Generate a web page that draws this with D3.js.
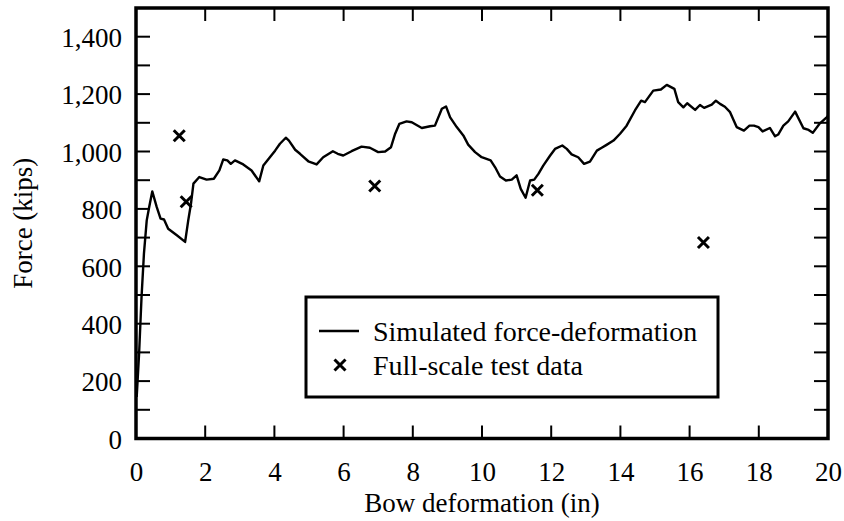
<!DOCTYPE html>
<html><head><meta charset="utf-8">
<script src="https://cdn.jsdelivr.net/npm/d3@7"></script>
<style>body{margin:0;background:#fff}svg{display:block}text{font-family:"Liberation Serif","Times New Roman",serif;fill:#000}</style>
</head><body>
<script>
const simX = [0.02,0.09,0.16,0.23,0.31,0.38,0.47,0.60,0.71,0.81,0.93,1.18,1.42,1.51,1.59,1.66,1.83,2.04,2.25,2.41,2.52,2.64,2.74,2.86,3.10,3.34,3.56,3.68,3.87,4.02,4.16,4.33,4.42,4.60,4.74,4.98,5.22,5.41,5.69,5.83,5.99,6.23,6.52,6.76,7.00,7.20,7.37,7.49,7.61,7.82,7.97,8.26,8.50,8.64,8.84,8.96,9.08,9.27,9.46,9.60,9.80,9.99,10.25,10.38,10.52,10.69,10.86,11.00,11.12,11.26,11.39,11.51,11.63,11.77,11.97,12.11,12.32,12.45,12.59,12.78,12.95,13.12,13.32,13.46,13.60,13.80,13.99,14.18,14.42,14.60,14.71,14.95,15.17,15.34,15.56,15.67,15.82,15.93,16.16,16.30,16.42,16.64,16.76,16.88,17.02,17.17,17.36,17.57,17.73,17.86,17.99,18.11,18.32,18.47,18.56,18.71,18.85,19.05,19.29,19.44,19.56,19.75,19.96,20.0];
const simY = [145,297,493,645,760,806,861,806,766,763,731,708,685,760,819,888,911,902,905,934,972,969,957,969,955,934,896,951,980,1003,1027,1048,1038,1006,992,966,955,980,1001,992,986,1001,1017,1013,998,1000,1015,1062,1096,1105,1102,1082,1088,1090,1149,1157,1119,1085,1056,1024,998,980,969,945,913,899,902,917,870,839,899,902,922,951,986,1009,1021,1009,990,980,957,965,1003,1013,1023,1038,1062,1090,1143,1177,1172,1212,1216,1232,1218,1172,1154,1168,1145,1162,1152,1163,1177,1166,1156,1137,1085,1073,1090,1090,1085,1070,1082,1053,1059,1090,1105,1139,1081,1075,1065,1096,1119,1124];
const testX = [1.25,1.45,6.9,11.6,16.4];
const testY = [1055,825,880,865,683];
const xTicks = [0,2,4,6,8,10,12,14,16,18,20];
const yTicks = [0,200,400,600,800,1000,1200,1400];
const yMinor = [100,300,500,700,900,1100,1300,1500];
const seriesNames = ["Simulated force-deformation","Full-scale test data"];
const xTitle = "Bow deformation (in)";
const yTitle = "Force (kips)";

const W=844,H=521, L=136, R=828, T=8, B=438.5;
const svg=d3.select("body").append("svg").attr("width",W).attr("height",H);
const x=d3.scaleLinear().domain([0,20]).range([L,R]);
const y=d3.scaleLinear().domain([0,1500]).range([B,T]);

const g=svg.append("g");
const left=g.append("g").attr("transform",`translate(${L},0)`)
 .call(d3.axisLeft(y).tickValues(yTicks).tickSize(0).tickPadding(14).tickFormat(d3.format(",")));
left.select(".domain").remove();
left.selectAll("text").style("font-size","27px").style("font-family","Liberation Serif").attr("dy","0.36em");
const bottom=g.append("g").attr("transform",`translate(0,${B})`)
 .call(d3.axisBottom(x).tickValues(xTicks).tickSize(0).tickPadding(0).tickFormat(d3.format("d")));
bottom.select(".domain").remove();
bottom.selectAll("text").style("font-size","27px").style("font-family","Liberation Serif").attr("dy",null).attr("y",42);

const tk=g.append("g").attr("stroke","#000").attr("stroke-width",2);
const allY=yTicks.concat(yMinor).filter(v=>v>0&&v<1500);
tk.selectAll(".yl").data(allY).join("line").attr("x1",L).attr("x2",L+14).attr("y1",d=>y(d)).attr("y2",d=>y(d));
tk.selectAll(".yr").data(allY).join("line").attr("x1",R).attr("x2",R-14).attr("y1",d=>y(d)).attr("y2",d=>y(d));
const inX=xTicks.filter(v=>v>0&&v<20);
tk.selectAll(".xb").data(inX).join("line").attr("x1",d=>x(d)).attr("x2",d=>x(d)).attr("y1",B).attr("y2",B-13);
tk.selectAll(".xt").data(inX).join("line").attr("x1",d=>x(d)).attr("x2",d=>x(d)).attr("y1",T).attr("y2",T+13);

const pts=simX.map((d,i)=>[d,simY[i]]);
svg.append("path").datum(pts).attr("fill","none").attr("stroke","#000").attr("stroke-width",2.4)
 .attr("stroke-linejoin","round").attr("d",d3.line().x(d=>x(d[0])).y(d=>y(d[1])));

function cross(sel,cx,cy,s){
  sel.append("path").attr("d",`M${cx-s},${cy-s}L${cx+s},${cy+s}M${cx-s},${cy+s}L${cx+s},${cy-s}`)
   .attr("stroke","#000").attr("stroke-width",3).attr("fill","none");
}
testX.forEach((d,i)=>cross(svg,x(d),y(testY[i]),5.5));

svg.append("rect").attr("x",L).attr("y",T).attr("width",R-L).attr("height",B-T)
 .attr("fill","none").attr("stroke","#000").attr("stroke-width",3.5);

const lg=svg.append("g");
lg.append("rect").attr("x",306).attr("y",297).attr("width",412).attr("height",100).attr("fill","#fff").attr("stroke","#000").attr("stroke-width",3);
lg.append("line").attr("x1",319).attr("x2",359).attr("y1",331).attr("y2",331).attr("stroke","#000").attr("stroke-width",2.4);
cross(lg,340,365,5.5);
lg.append("text").attr("x",373).attr("y",341).style("font-size","28px").text(seriesNames[0]);
lg.append("text").attr("x",373).attr("y",375).style("font-size","28px").text(seriesNames[1]);

svg.append("text").attr("x",(L+R)/2).attr("y",512).attr("text-anchor","middle").style("font-size","27px").text(xTitle);
svg.append("text").attr("transform",`translate(32,${(T+B)/2}) rotate(-90)`).attr("text-anchor","middle").style("font-size","27px").text(yTitle);
</script>
</body></html>
